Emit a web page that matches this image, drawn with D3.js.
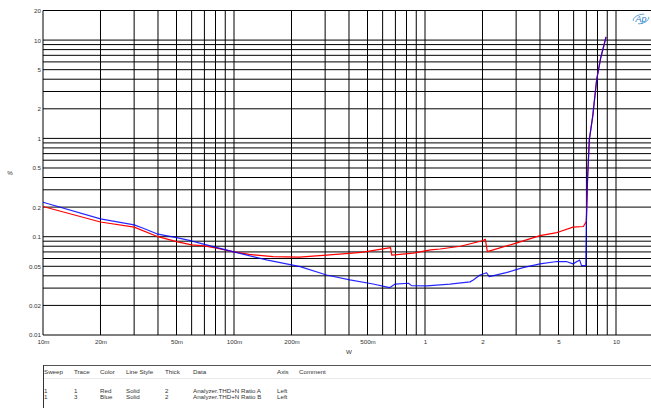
<!DOCTYPE html>
<html><head><meta charset="utf-8">
<script src="https://cdn.jsdelivr.net/npm/d3@7"></script>
<style>
body{margin:0;background:#fff;}
svg{display:block;}
text{font-family:"Liberation Sans",Arial,sans-serif;}
</style></head>
<body>
<svg id="c" width="651" height="408"></svg>
<script>
const redFreq = [0.01,0.02,0.03,0.04,0.05,0.06,0.07,0.08,0.0985,0.12,0.16,0.22,0.305,0.40,0.475,0.66,0.67,0.867,1.07,1.2,1.53,2.0,2.07,2.12,3.0,4.0,4.9,5.1,5.95,6.75,6.99,7.1,7.25,7.55,7.92,8.31,8.87];
const redVal  = [0.203,0.141,0.125,0.100,0.089,0.0825,0.0805,0.077,0.0705,0.066,0.0627,0.0619,0.065,0.0678,0.0696,0.0775,0.065,0.068,0.0734,0.075,0.080,0.091,0.094,0.0705,0.086,0.1026,0.110,0.113,0.125,0.127,0.143,0.4,0.97,1.67,3.95,6.57,10.8];
const blueFreq = [0.01,0.02,0.03,0.0335,0.04,0.05,0.06,0.066,0.0985,0.148,0.222,0.305,0.404,0.535,0.652,0.698,0.82,0.85,1.02,1.35,1.72,1.79,1.94,2.1,2.17,2.66,3.26,4.0,4.9,5.5,5.95,6.45,6.6,6.95,7.0,7.1,7.25,7.55,7.92,8.31,8.87];
const blueVal  = [0.224,0.152,0.132,0.122,0.106,0.0978,0.0905,0.086,0.0705,0.058,0.0496,0.0408,0.0363,0.033,0.0303,0.0330,0.0336,0.0318,0.0316,0.033,0.0347,0.0363,0.0408,0.043,0.0392,0.0431,0.0484,0.0529,0.0559,0.0559,0.0529,0.058,0.0508,0.0508,0.143,0.4,0.97,1.67,3.95,6.57,10.8];

const xTickVals = [0.01,0.02,0.05,0.1,0.2,0.5,1,2,5,10];
const xTickLabels = ["10m","20m","50m","100m","200m","500m","1","2","5","10"];
const yTickVals = [20,10,5,2,1,0.5,0.2,0.1,0.05,0.02,0.01];
const yTickLabels = ["20","10","5","2","1","0.5","0.2","0.1","0.05","0.02","0.01"];

const legendHeaders = ["Sweep","Trace","Color","Line Style","Thick","Data","Axis","Comment"];
const legendRow1 = ["1","1","Red","Solid","2","Analyzer.THD+N Ratio A","Left",""];
const legendRow2 = ["1","3","Blue","Solid","2","Analyzer.THD+N Ratio B","Left",""];
const legendColX = [44,74,100,126,165,193,277,299];

const svg = d3.select("#c");
const x = d3.scaleLog().domain([0.01,20]).range([43,673.5]);
const y = d3.scaleLog().domain([0.01,20]).range([335,10.5]);

const gridVals = [];
[0.01,0.1,1,10].forEach(d=>{for(let k=1;k<=9;k++){const v=+(d*k).toPrecision(3); if(v<=20) gridVals.push(v);} });
gridVals.push(20);

const g = svg.append("g");
g.selectAll("line.h").data(gridVals).join("line")
 .attr("x1",43).attr("x2",651).attr("y1",d=>y(d)).attr("y2",d=>y(d))
 .attr("stroke","#000").attr("stroke-width",1);
g.selectAll("line.v").data(gridVals.filter(v=>x(v)<=651)).join("line")
 .attr("y1",10.5).attr("y2",335).attr("x1",d=>x(d)).attr("x2",d=>x(d))
 .attr("stroke","#000").attr("stroke-width",1);

const xa = d3.axisBottom(x).tickValues(xTickVals).tickFormat((d,i)=>xTickLabels[i]).tickSize(0).tickPadding(5);
svg.append("g").attr("transform","translate(0,335)").call(xa)
 .call(s=>s.select(".domain").remove())
 .selectAll("text").attr("font-size",6.2).attr("fill","#333").attr("font-family","Liberation Sans, Arial, sans-serif");
const ya = d3.axisLeft(y).tickValues(yTickVals).tickFormat((d,i)=>yTickLabels[i]).tickSize(0).tickPadding(2);
svg.append("g").attr("transform","translate(43,0)").call(ya)
 .call(s=>s.select(".domain").remove())
 .selectAll("text").attr("font-size",6.2).attr("fill","#333").attr("font-family","Liberation Sans, Arial, sans-serif");

svg.append("text").attr("x",10).attr("y",175).attr("font-size",6.2).attr("fill","#333").attr("text-anchor","middle").text("%");
svg.append("text").attr("x",349).attr("y",354).attr("font-size",6.2).attr("fill","#333").attr("text-anchor","middle").text("W");

const line = d3.line().x(d=>x(d[0])).y(d=>y(d[1]));
const red = redFreq.map((f,i)=>[f,redVal[i]]);
const blue = blueFreq.map((f,i)=>[f,blueVal[i]]);
svg.append("path").datum(red).attr("d",line).attr("fill","none").attr("stroke","#ff0000").attr("stroke-width",1.2).attr("stroke-linejoin","round");
svg.append("path").datum(blue).attr("d",line).attr("fill","none").attr("stroke","#0000ff").attr("stroke-width",1.2).attr("stroke-linejoin","round").attr("stroke-opacity",0.85);

const logo = svg.append("g").attr("transform","translate(641,19)");
logo.append("ellipse").attr("rx",8).attr("ry",4.5).attr("fill","none").attr("stroke","#4a9ad8").attr("stroke-width",0.8).attr("transform","rotate(-15)").attr("stroke-dasharray","14 6");
logo.append("text").attr("x",0).attr("y",3).attr("text-anchor","middle").attr("font-size",9).attr("font-style","italic").attr("fill","#2a7fd0").text("Ap");

svg.append("line").attr("x1",43).attr("x2",651).attr("y1",365.5).attr("y2",365.5).attr("stroke","#555").attr("stroke-width",1);
svg.append("line").attr("x1",43).attr("x2",651).attr("y1",378.5).attr("y2",378.5).attr("stroke","#ddd").attr("stroke-width",0.6);
svg.append("line").attr("x1",43.5).attr("x2",43.5).attr("y1",365).attr("y2",408).attr("stroke","#333").attr("stroke-width",1);
const lg = svg.append("g").attr("font-size",6.2).attr("fill","#333");
lg.selectAll("text.h").data(legendHeaders).join("text").attr("x",(d,i)=>legendColX[i]).attr("y",374).text(d=>d);
lg.selectAll("text.r1").data(legendRow1).join("text").attr("x",(d,i)=>legendColX[i]).attr("y",392.5).text(d=>d);
lg.selectAll("text.r2").data(legendRow2).join("text").attr("x",(d,i)=>legendColX[i]).attr("y",398.5).text(d=>d);
</script>
</body></html>
